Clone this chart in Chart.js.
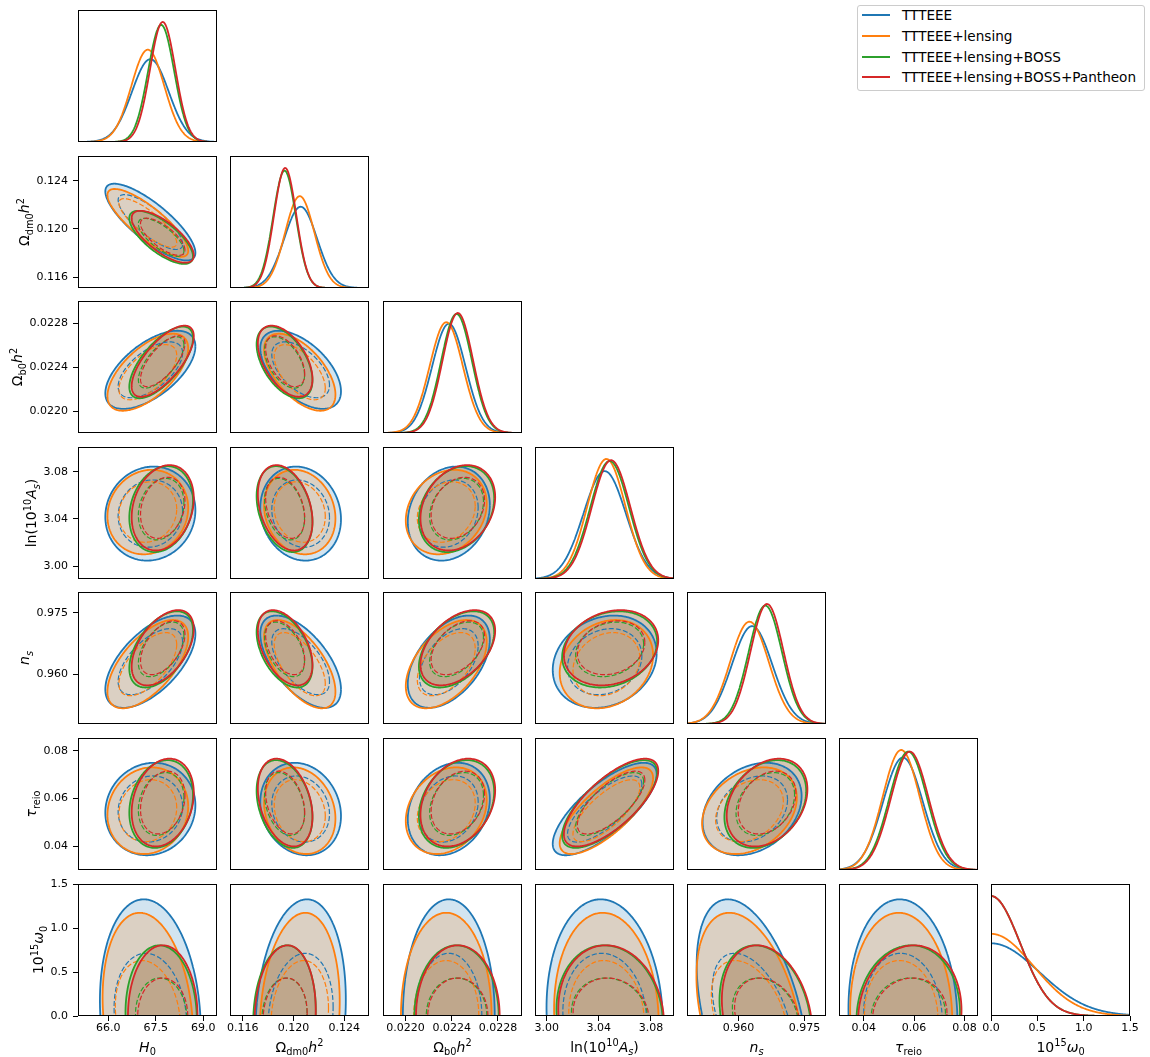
<!DOCTYPE html>
<html>
<head>
<meta charset="utf-8">
<title>Corner plot</title>
<script src="https://cdn.jsdelivr.net/npm/chart.js@4.4.1/dist/chart.umd.min.js"></script>
<style>
  html, body { margin: 0; padding: 0; background: #fff; }
  #fig { position: relative; width: 1150px; height: 1057px; overflow: hidden; background: #fff; }
  #fig canvas { position: absolute; }
  #legend { position: absolute; left: 857px; top: 5px; width: 288px; height: 86px; box-sizing: border-box;
            border: 1px solid #cccccc; border-radius: 3px; background: #fff; z-index: 5;
            font-family: "DejaVu Sans", sans-serif; font-size: 13.6px; color: #000; }
  .leg-row { position: absolute; left: 0; right: 0; height: 20px; }
  .leg-line { position: absolute; left: 4px; top: 9px; width: 28px; height: 2px; }
  .leg-text { position: absolute; left: 44px; top: 0; line-height: 20px; white-space: nowrap; }
</style>
</head>
<body>
<div id="fig"><div id="legend"></div></div>
<script>
// ---- values ----
const seriesLabels = ['TTTEEE', 'TTTEEE+lensing', 'TTTEEE+lensing+BOSS', 'TTTEEE+lensing+BOSS+Pantheon'];
const seriesColors = ['#1f77b4', '#ff7f0e', '#2ca02c', '#d62728'];

// parameters: H0, Odm h^2, Ob h^2, ln(10^10 As), ns, tau_reio, 10^15 omega0
const axisLabels = [
  [['H', 'i'], ['0', 'sub']],
  [['\u03A9', 'r'], ['dm0', 'sub'], ['h', 'i'], ['2', 'sup']],
  [['\u03A9', 'r'], ['b0', 'sub'], ['h', 'i'], ['2', 'sup']],
  [['ln(10', 'r'], ['10', 'sup'], ['A', 'i'], ['s', 'subi'], [')', 'r']],
  [['n', 'i'], ['s', 'subi']],
  [['\u03C4', 'i'], ['reio', 'sub']],
  [['10', 'r'], ['15', 'sup'], ['\u03C9', 'i'], ['0', 'sub']]
];
const xMin = [65.05, 0.11500, 0.021806, 2.9910, 0.9483, 0.0302, 0.0];
const xMax = [69.43, 0.12596, 0.023008, 3.0977, 0.9799, 0.0854, 1.5];
const yMin = [65.05, 0.11510, 0.021801, 2.9890, 0.9479, 0.0301, 0.0];
const yMax = [69.43, 0.12605, 0.023000, 3.1010, 0.9801, 0.0853, 1.5];
const tickValues = [
  [66.0, 67.5, 69.0],
  [0.116, 0.120, 0.124],
  [0.0220, 0.0224, 0.0228],
  [3.00, 3.04, 3.08],
  [0.960, 0.975],
  [0.04, 0.06, 0.08],
  [0.0, 0.5, 1.0, 1.5]
];
const tickDigits = [1, 3, 4, 2, 3, 2, 1];

// marginal means (omega0 is one-sided, peaked at 0)
const meanTT   = [67.33, 0.12057, 0.022375, 3.0445, 0.9631, 0.0556, 0];
const meanLens = [67.25, 0.12050, 0.022353, 3.0458, 0.9625, 0.0549, 0];
const meanBOSS = [67.67, 0.11930, 0.022442, 3.0483, 0.9661, 0.0577, 0];
const meanPan  = [67.72, 0.11935, 0.022453, 3.0494, 0.9665, 0.0583, 0];
// marginal widths
const sigmaTT   = [0.58, 0.00130, 0.000145, 0.0163, 0.0046, 0.0079, 0.52];
const sigmaLens = [0.52, 0.00115, 0.000143, 0.01465, 0.0044, 0.0074, 0.46];
const sigmaBOSS = [0.41, 0.00090, 0.000133, 0.0149, 0.0038, 0.0075, 0.315];
const sigmaPan  = [0.40, 0.00088, 0.000132, 0.0148, 0.00375, 0.0075, 0.315];
// correlations, pairs (1,0) (2,0) (2,1) (3,0) (3,1) (3,2) (4,0) .. (4,3) (5,0) .. (5,4) (6,0) .. (6,5)
const rhoTT   = [-0.80, 0.60, -0.55, 0.07, -0.12, 0.18, 0.60, -0.60, 0.48, 0.18, 0.08, -0.15, 0.22, 0.75, 0.28, -0.13, 0.14, 0.00, -0.07, -0.44, -0.06];
const rhoLens = [-0.82, 0.62, -0.58, 0.10, -0.15, 0.20, 0.62, -0.62, 0.50, 0.20, 0.10, -0.18, 0.24, 0.75, 0.30, -0.18, 0.14, 0.00, -0.07, -0.38, -0.05];
const rhoBOSS = [-0.72, 0.68, -0.50, 0.20, -0.30, 0.25, 0.50, -0.45, 0.45, 0.20, 0.20, -0.30, 0.28, 0.72, 0.30, -0.05, 0.08, 0.00, -0.10, -0.22, 0.06];
const rhoPan  = [-0.72, 0.70, -0.50, 0.22, -0.32, 0.25, 0.50, -0.45, 0.45, 0.20, 0.22, -0.32, 0.28, 0.72, 0.30, 0.00, 0.08, 0.00, -0.10, -0.23, 0.08];

const seriesMeans = [meanTT, meanLens, meanBOSS, meanPan];
const seriesSigmas = [sigmaTT, sigmaLens, sigmaBOSS, sigmaPan];
const seriesRhos = [rhoTT, rhoLens, rhoBOSS, rhoPan];

// contour radii (in sigma units) for the 95% and 68% levels
const k95 = 2.447, k68 = 1.75;
const kx95Omega = 2.74, kx68Omega = 1.97, kw95Omega = 2.55, kw68Omega = 1.37;

// ---- layout ----
const colLeft = [78, 230, 383, 535, 687, 839, 991];
const rowTop = [10, 156, 301, 447, 592, 738, 884];
const panelW = 139, panelH = 132;
const xLabelBaseline = 1052;
const fam = '"DejaVu Sans", sans-serif';
const labelSize = 14;

function rgba(hex, a) {
  const n = parseInt(hex.slice(1), 16);
  return `rgba(${(n >> 16) & 255}, ${(n >> 8) & 255}, ${n & 255}, ${a})`;
}

function partFont(p, size) {
  const small = p[1] === 'sub' || p[1] === 'sup' || p[1] === 'subi';
  const italic = p[1] === 'i' || p[1] === 'subi';
  return (italic ? 'italic ' : '') + (small ? size * 0.7 : size) + 'px ' + fam;
}
function partShift(p, size) {
  if (p[1] === 'sub' || p[1] === 'subi') return size * 0.22;
  if (p[1] === 'sup') return -size * 0.42;
  return 0;
}
function richMetrics(ctx, parts, size) {
  let width = 0, desc = 0;
  const widths = parts.map(p => {
    ctx.font = partFont(p, size);
    const m = ctx.measureText(p[0]);
    desc = Math.max(desc, m.actualBoundingBoxDescent + partShift(p, size));
    width += m.width;
    return m.width;
  });
  return {width, desc, widths};
}
// draws centred on x=0 along the text direction, baseline at y=0
function drawRich(ctx, parts, size) {
  const m = richMetrics(ctx, parts, size);
  let x = -m.width / 2;
  ctx.fillStyle = '#000';
  ctx.textAlign = 'left';
  ctx.textBaseline = 'alphabetic';
  parts.forEach((p, i) => {
    ctx.font = partFont(p, size);
    ctx.fillText(p[0], x, partShift(p, size));
    x += m.widths[i];
  });
}

const cornerPlugin = {
  id: 'corner',
  afterDraw(chart, args, opts) {
    const ctx = chart.ctx, a = chart.chartArea;
    ctx.save();
    ctx.strokeStyle = '#000';
    ctx.lineWidth = 1;
    ctx.strokeRect(Math.round(a.left) + 0.5, Math.round(a.top) + 0.5,
                   Math.round(a.right - a.left) - 1, Math.round(a.bottom - a.top) - 1);
    if (opts.xLabel) {
      ctx.save();
      ctx.translate((a.left + a.right) / 2, opts.xBase);
      drawRich(ctx, opts.xLabel, labelSize);
      ctx.restore();
    }
    if (opts.yLabel) {
      ctx.font = '11px ' + fam;
      const widest = Math.max(...opts.yTicks.map(t => ctx.measureText(t).width));
      const right = a.left - 5 - 5 - widest - 4;
      const m = richMetrics(ctx, opts.yLabel, labelSize);
      ctx.save();
      ctx.translate(right - m.desc, (a.top + a.bottom) / 2);
      ctx.rotate(-Math.PI / 2);
      drawRich(ctx, opts.yLabel, labelSize);
      ctx.restore();
    }
    ctx.restore();
  }
};

function pairIndex(r, c) { return r * (r - 1) / 2 + c; }

function curvePoints(mu, sig, lo, hi, half) {
  const pts = [];
  const n = 240;
  for (let i = 0; i <= n; i++) {
    const x = lo + (hi - lo) * i / n;
    const z = (x - mu) / sig;
    pts.push({x: x, y: (half ? 2 : 1) * Math.exp(-0.5 * z * z) / (sig * Math.sqrt(2 * Math.PI))});
  }
  return pts;
}

function ellipsePoints(mx, my, sx, sy, rho, kx, ky) {
  const pts = [];
  const c = Math.sqrt(1 - rho * rho);
  const n = 200;
  for (let i = 0; i <= n; i++) {
    const t = 2 * Math.PI * i / n;
    pts.push({x: mx + kx * sx * Math.cos(t), y: my + ky * sy * (rho * Math.cos(t) + c * Math.sin(t))});
  }
  return pts;
}

function axisConfig(p, lo, hi, show, isX, pad) {
  const cfg = {
    type: 'linear', min: lo, max: hi, display: show,
    afterBuildTicks: sc => { sc.ticks = tickValues[p].map(v => ({value: v})); },
    ticks: {
      autoSkip: false, maxRotation: 0, minRotation: 0, padding: isX ? 1 : 5, color: '#000',
      font: {family: 'DejaVu Sans', size: 11},
      callback: v => Number(v).toFixed(tickDigits[p])
    },
    grid: {drawOnChartArea: false, drawTicks: true, tickLength: 5, tickWidth: 1, tickColor: '#000'},
    border: {display: false}
  };
  if (show) {
    cfg.afterFit = sc => {
      if (isX) { sc.height = pad; sc.paddingLeft = 0; sc.paddingRight = 0; }
      else { sc.width = pad; sc.paddingTop = 0; sc.paddingBottom = 0; }
    };
  }
  return cfg;
}

function makePanel(r, c) {
  const showX = r === 6, showY = c === 0 && r > 0;
  const padL = c === 0 ? 78 : 14, padR = 20, padT = 10, padB = showX ? 44 : 8;
  const W = panelW + padL + padR, H = panelH + padT + padB;
  const canvas = document.createElement('canvas');
  canvas.width = W; canvas.height = H;
  canvas.style.left = (colLeft[c] - padL) + 'px';
  canvas.style.top = (rowTop[r] - padT) + 'px';
  canvas.style.width = W + 'px';
  canvas.style.height = H + 'px';
  document.getElementById('fig').appendChild(canvas);

  const fills = [], lines = [];
  let yLo, yHi;
  if (r === c) {
    const half = c === 6;
    let peak = 0;
    for (let s = 0; s < 4; s++) {
      const mu = seriesMeans[s][c], sig = seriesSigmas[s][c];
      peak = Math.max(peak, (half ? 2 : 1) / (sig * Math.sqrt(2 * Math.PI)));
      lines.push({data: curvePoints(mu, sig, xMin[c], xMax[c], half), borderColor: seriesColors[s], borderWidth: 1.8, fill: false});
    }
    yLo = 0; yHi = 1.1 * peak;
  } else {
    yLo = yMin[r]; yHi = yMax[r];
    for (let s = 0; s < 4; s++) {
      const m = seriesMeans[s], sg = seriesSigmas[s], rho = seriesRhos[s][pairIndex(r, c)];
      let outer, inner;
      if (r === 6) {
        outer = ellipsePoints(m[c], 0, sg[c], sg[6], rho, kx95Omega, kw95Omega);
        inner = ellipsePoints(m[c], 0, sg[c], sg[6], rho, kx68Omega, kw68Omega);
      } else {
        outer = ellipsePoints(m[c], m[r], sg[c], sg[r], rho, k95, k95);
        inner = ellipsePoints(m[c], m[r], sg[c], sg[r], rho, k68, k68);
      }
      fills.push({data: outer, borderColor: 'rgba(0,0,0,0)', backgroundColor: rgba(seriesColors[s], 0.2), borderWidth: 0, fill: 'shape'});
      lines.push({data: outer, borderColor: seriesColors[s], borderWidth: 1.8, fill: false});
      lines.push({data: inner, borderColor: seriesColors[s], borderWidth: 1.2, borderDash: [5, 2.2], fill: false});
    }
  }
  const datasets = fills.concat(lines);
  // later datasets on top
  datasets.forEach((d, i) => { d.order = datasets.length - i; d.pointRadius = 0; });

  const opts = {
    xLabel: showX ? axisLabels[c] : null,
    xBase: xLabelBaseline - (rowTop[r] - padT),
    yLabel: showY ? axisLabels[r] : null,
    yTicks: tickValues[r].map(v => v.toFixed(tickDigits[r]))
  };

  new Chart(canvas.getContext('2d'), {
    type: 'line',
    data: {datasets: datasets},
    options: {
      responsive: false, animation: false, devicePixelRatio: 1, events: [],
      layout: {padding: {left: showY ? 0 : padL, right: padR, top: padT, bottom: showX ? 0 : padB}},
      elements: {point: {radius: 0}, line: {tension: 0.000001, capBezierPoints: false}},
      plugins: {legend: {display: false}, tooltip: {enabled: false}, corner: opts},
      scales: {
        x: axisConfig(c, xMin[c], xMax[c], showX, true, padB),
        y: axisConfig(r, yLo, yHi, showY, false, padL)
      }
    },
    plugins: [cornerPlugin]
  });
}

// legend
const legend = document.getElementById('legend');
seriesLabels.forEach((lab, s) => {
  const row = document.createElement('div');
  row.className = 'leg-row';
  row.style.top = (-1 + s * 20.8) + 'px';
  const line = document.createElement('div');
  line.className = 'leg-line';
  line.style.background = seriesColors[s];
  const txt = document.createElement('div');
  txt.className = 'leg-text';
  txt.textContent = lab;
  row.appendChild(line);
  row.appendChild(txt);
  legend.appendChild(row);
});

for (let r = 0; r < 7; r++) {
  for (let c = 0; c <= r; c++) makePanel(r, c);
}
</script>
</body>
</html>
